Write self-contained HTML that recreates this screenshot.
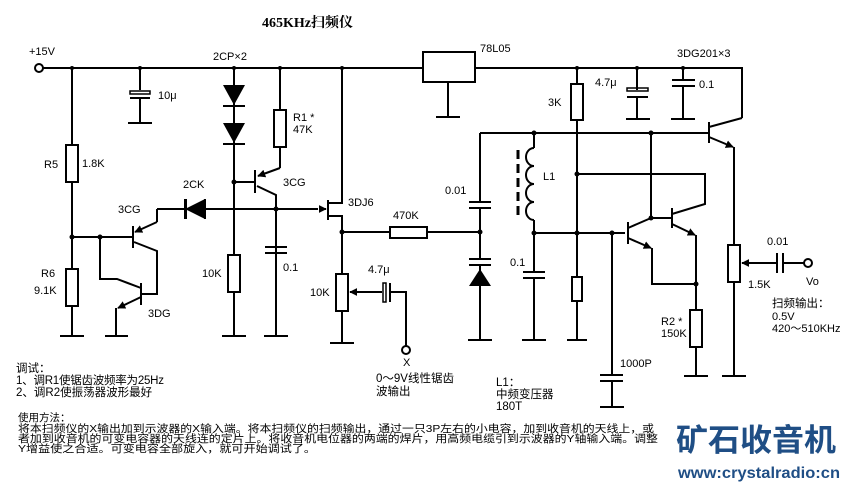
<!DOCTYPE html>
<html><head><meta charset="utf-8"><style>
html,body{margin:0;padding:0;background:#fff;}
svg{display:block;}
text{font-family:"Liberation Sans","Noto Sans CJK SC",sans-serif;fill:#000;}
.s{font-family:"Liberation Mono","Noto Sans CJK SC",monospace;font-size:11px;}
.c{font-family:"Liberation Sans","Noto Sans CJK SC",sans-serif;font-size:11.5px;}
.d{font-family:"Liberation Sans","Noto Sans CJK SC",sans-serif;font-size:10.5px;}
</style></head><body>
<svg width="843" height="483" viewBox="0 0 843 483" xmlns="http://www.w3.org/2000/svg">
<defs>
<marker id="a" viewBox="0 0 10 10" refX="9" refY="5" markerWidth="4" markerHeight="4" orient="auto"><path d="M0,0L10,5L0,10z" fill="#000"/></marker>
</defs>
<g stroke="#000" stroke-width="2" fill="none">
<path d="M43,68H423M475,68H742V118"/>
<circle cx="39" cy="68" r="4" fill="#fff"/>
<rect x="423" y="52" width="52" height="30"/>
<path d="M448,82V117M436,117H460"/>
<path d="M72,68V145M72,182V269M72,306V336M60,336H84"/>
<rect x="66" y="145" width="12" height="37"/>
<rect x="66" y="269" width="12" height="37"/>
<path d="M140,68V90M140,99V123M128,123H152M130,98H150" />
<rect x="130" y="91" width="20" height="3" stroke-width="1.5"/>
<path d="M234,68V336M223,106H245M223,144H245M222,336H246"/>
<rect x="228" y="255" width="12" height="37" fill="#fff"/>
<path d="M280,68V110M280,147V168"/>
<rect x="274" y="110" width="12" height="37"/>
<path d="M280,168L258,176" marker-end="url(#a)"/>
<path d="M255,170V193M234,182H255M257,186L276,195V336M265,247H287M265,253H287M264,336H288"/>
<path d="M157,209H318M157,209V222M205,199V219" />
<path d="M157,222L135,232" marker-end="url(#a)"/>
<path d="M72,237H133M133,226V248M134,242L157,251V294H141M141,283V305M100,237V279H117L141,288"/>
<path d="M141,297L118,308" marker-end="url(#a)"/>
<path d="M116,308V336M105,336H128"/>
<path d="M320,209H326" marker-end="url(#a)"/>
<path d="M328,200V220M328,203H342V68M328,216H342V274M342,232H390M427,232H480M342,311V343M330,343H354"/>
<rect x="390" y="227" width="37" height="11"/>
<rect x="336" y="274" width="12" height="37"/>
<path d="M382,292H350" marker-end="url(#a)"/>
<path d="M390,283V302M390,292H406V346"/>
<rect x="383" y="283" width="3" height="19" stroke-width="1.5"/>
<circle cx="406" cy="350" r="4" fill="#fff"/>
<path d="M480,133V202M480,208V259M469,202H491M469,208H491M469,259H491M469,265H491M480,265V340M468,340H492"/>
<path d="M480,133H709M534,133V148M534,220V233"/>
<path d="M534,148a8,9 0 0 0 0,18a8,9 0 0 0 0,18a8,9 0 0 0 0,18a8,9 0 0 0 0,18" />
<path d="M518,150V215" stroke-width="3" stroke-dasharray="9,5"/>
<path d="M534,233H625M534,233V272M523,272H545M523,278H545M534,278V340M522,340H546"/>
<path d="M577,68V84M577,120V277M577,301V340M567,340H587"/>
<rect x="571" y="84" width="12" height="36"/>
<rect x="572" y="277" width="10" height="24" fill="#fff"/>
<path d="M577,174H705V204L672,214"/>
<path d="M612,233V375M600,375H623M600,381H623M612,381V407M600,407H624"/>
<path d="M628,222V244M628,228L651,218M651,133V218H672M672,208V228"/>
<path d="M628,238L651,248" marker-end="url(#a)"/>
<path d="M652,248V284H696"/>
<path d="M672,224L695,235" marker-end="url(#a)"/>
<path d="M696,235V310M696,347V376M684,376H708"/>
<rect x="690" y="310" width="12" height="37"/>
<path d="M637,68V90M637,97V119M626,119H650M627,97H648"/>
<rect x="627" y="88" width="21" height="3" stroke-width="1.5"/>
<path d="M683,68V80M683,86V119M672,80H695M672,86H695M671,119H695"/>
<path d="M709,122V143M709,127L742,118"/>
<path d="M709,137L733,147" marker-end="url(#a)"/>
<path d="M734,147V245M734,282V376M722,376H746"/>
<rect x="728" y="245" width="12" height="37"/>
<path d="M778,263H742" marker-end="url(#a)"/>
<path d="M777,253V273M783,253V273M783,263H804"/>
<circle cx="808" cy="263" r="4" fill="#fff"/>
</g>
<g fill="#000">
<path d="M223,85H245L234,105z"/>
<path d="M223,123H245L234,143z"/>
<path d="M205,199V219L185,209z"/>
<rect x="184" y="199" width="3" height="20"/>
<path d="M469,286H491L480,269z"/>
<circle cx="72" cy="68" r="2"/><circle cx="140" cy="68" r="2"/><circle cx="234" cy="68" r="2"/><circle cx="280" cy="68" r="2"/><circle cx="342" cy="68" r="2"/><circle cx="577" cy="68" r="2"/><circle cx="637" cy="68" r="2"/><circle cx="683" cy="68" r="2"/>
<circle cx="234" cy="182" r="2.5"/><circle cx="276" cy="209" r="2.5"/><circle cx="72" cy="237" r="2.5"/><circle cx="100" cy="237" r="2.5"/><circle cx="342" cy="232" r="2.5"/><circle cx="480" cy="232" r="2.5"/>
<circle cx="534" cy="133" r="2.5"/><circle cx="651" cy="133" r="2.5"/><circle cx="577" cy="174" r="2.5"/><circle cx="534" cy="233" r="2.5"/><circle cx="577" cy="233" r="2.5"/><circle cx="612" cy="233" r="2.5"/><circle cx="651" cy="218" r="2.5"/><circle cx="696" cy="284" r="2.5"/>
</g>
<text x="262" y="27" style="font-family:'Liberation Serif','Noto Serif CJK SC',serif;font-weight:bold;font-size:14px">465KHz扫频仪</text>
<g class="s">
<text x="29" y="55">+15V</text>
<text x="213" y="60">2CP×2</text>
<text x="158" y="99">10μ</text>
<text x="293" y="121">R1 *</text>
<text x="293" y="133">47K</text>
<text x="44" y="168">R5</text>
<text x="82" y="167">1.8K</text>
<text x="183" y="188">2CK</text>
<text x="283" y="186">3CG</text>
<text x="118" y="213">3CG</text>
<text x="348" y="206">3DJ6</text>
<text x="393" y="219">470K</text>
<text x="41" y="277">R6</text>
<text x="34" y="294">9.1K</text>
<text x="148" y="317">3DG</text>
<text x="202" y="277">10K</text>
<text x="283" y="271">0.1</text>
<text x="310" y="296">10K</text>
<text x="368" y="273">4.7μ</text>
<text x="403" y="366">X</text>
<text x="480" y="52">78L05</text>
<text x="677" y="57">3DG201×3</text>
<text x="548" y="106">3K</text>
<text x="595" y="86">4.7μ</text>
<text x="699" y="88">0.1</text>
<text x="543" y="180">L1</text>
<text x="445" y="194">0.01</text>
<text x="510" y="266">0.1</text>
<text x="620" y="367">1000P</text>
<text x="661" y="325">R2 *</text>
<text x="661" y="337">150K</text>
<text x="767" y="245">0.01</text>
<text x="806" y="285">Vo</text>
<text x="748" y="288">1.5K</text>
<text x="772" y="320">0.5V</text>
<text x="772" y="332">420～510KHz</text>
</g>
<g class="c">
<text x="772" y="307">扫频输出：</text>
<text x="376" y="382">0～9V线性锯齿</text>
<text x="376" y="395">波输出</text>
<text x="496" y="386">L1：</text>
<text x="496" y="398">中频变压器</text>
<text x="496" y="410">180T</text>
<text x="16" y="372">调试：</text>
<text x="16" y="384" textLength="148">1、调R1使锯齿波频率为25Hz</text>
<text x="16" y="396">2、调R2使振荡器波形最好</text>
</g>
<g class="d">
<text x="18" y="421">使用方法：</text>
<text x="18" y="432" textLength="636" lengthAdjust="spacingAndGlyphs">将本扫频仪的X输出加到示波器的X输入端。将本扫频仪的扫频输出，通过一只3P左右的小电容，加到收音机的天线上，或</text>
<text x="18" y="442" textLength="640" lengthAdjust="spacingAndGlyphs">者加到收音机的可变电容器的天线连的定片上。将收音机电位器的两端的焊片，用高频电缆引到示波器的Y轴输入端。调整</text>
<text x="18" y="452" textLength="298" lengthAdjust="spacingAndGlyphs">Y增益使之合适。可变电容全部旋入，就可开始调试了。</text>
</g>
<text x="676" y="451" textLength="160" lengthAdjust="spacingAndGlyphs" style="font-family:'Noto Sans CJK SC',sans-serif;font-weight:bold;font-size:31px;fill:#1f4e85">矿石收音机</text>
<text x="678" y="478" textLength="162" lengthAdjust="spacingAndGlyphs" style="font-family:'Liberation Sans',sans-serif;font-weight:bold;font-size:16px;fill:#1f4e85">www:crystalradio:cn</text>
</svg>
</body></html>
